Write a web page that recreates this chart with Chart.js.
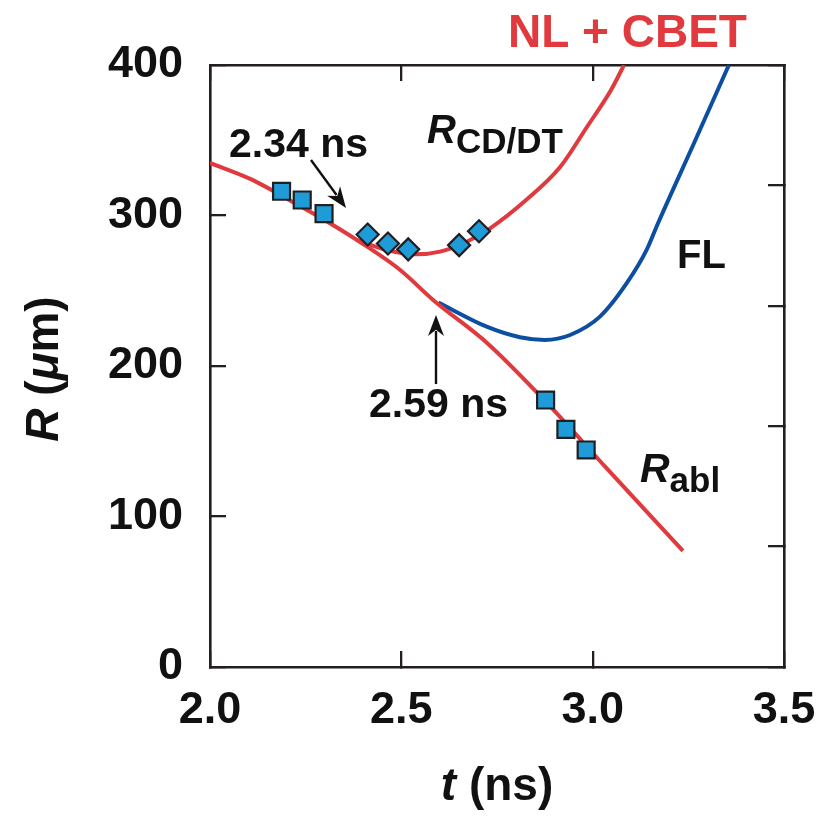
<!DOCTYPE html>
<html><head><meta charset="utf-8">
<script src="https://cdn.jsdelivr.net/npm/chart.js@4.4.0/dist/chart.umd.min.js"></script>
<style>html,body{margin:0;padding:0;background:#fff}canvas{display:block}</style>
</head><body>
<canvas id="c" width="818" height="817" style="width:818px;height:817px"></canvas>
<script>
// ---- tick labels ----
const xTickLabels = ['2.0', '2.5', '3.0', '3.5'];
const yTickLabels = ['0', '100', '200', '300', '400'];

// ---- R_abl curve (NL + CBET, red) ----
const ablT = [2.000, 2.105, 2.235, 2.321, 2.392, 2.497, 2.583, 2.724, 2.878, 3.038, 3.236];
const ablR = [334.9, 324.3, 306.3, 293.7, 282.4, 263.8, 243.9, 215.3, 176.1, 131.6, 77.1];

// ---- R_CD/DT branch (NL + CBET, red) ----
const cdT = [2.384, 2.462, 2.540, 2.601, 2.671, 2.732, 2.823, 2.915, 2.985, 3.048, 3.082];
const cdR = [283.7, 277.1, 274.2, 276.0, 282.6, 291.5, 309.6, 332.2, 358.8, 383.4, 400.0];

// ---- FL curve (blue) ----
const flT = [2.597, 2.723, 2.810, 2.875, 2.941, 3.019, 3.089, 3.141, 3.171, 3.265, 3.356];
const flR = [242.1, 226.1, 219.1, 217.3, 220.6, 232.8, 255.0, 277.1, 295.0, 348.2, 400.0];

// ---- measured points ----
const squareT = [2.187, 2.241, 2.298, 2.877, 2.930, 2.983];
const squareR = [316.1, 310.3, 301.2, 177.4, 157.9, 144.2];
const diamondT = [2.412, 2.465, 2.518, 2.651, 2.703];
const diamondR = [287.4, 281.4, 277.5, 280.3, 289.5];

const RED = '#e03a3e', BLUE = '#0c4fa2', MARK = '#1f9bd7', AX = '#231f20', TXT = '#111';
const FAM = '"Liberation Sans", Arial, Helvetica, sans-serif';
const pts = (xs, ys) => xs.map((x, i) => ({x: x, y: ys[i]}));

function rich(ctx, parts, x, y, align) {
  let w = 0;
  parts.forEach(p => { ctx.font = p.f; p.w = ctx.measureText(p.t).width; w += p.w; });
  let cx = align === 'center' ? x - w / 2 : (align === 'right' ? x - w : x);
  parts.forEach(p => { ctx.font = p.f; ctx.fillStyle = p.c || TXT; ctx.fillText(p.t, cx, y + (p.dy || 0)); cx += p.w; });
}
function arrow(ctx, x1, y1, x2, y2) {
  const a = Math.atan2(y2 - y1, x2 - x1), L = 21, W = 8;
  const bx = x2 - L * Math.cos(a), by = y2 - L * Math.sin(a);
  ctx.strokeStyle = TXT; ctx.fillStyle = TXT; ctx.lineWidth = 2.4;
  ctx.beginPath(); ctx.moveTo(x1, y1); ctx.lineTo(bx + 5 * Math.cos(a), by + 5 * Math.sin(a)); ctx.stroke();
  ctx.beginPath(); ctx.moveTo(x2, y2);
  ctx.lineTo(bx + W * Math.sin(a), by - W * Math.cos(a));
  ctx.lineTo(bx + 0.3 * L * Math.cos(a), by + 0.3 * L * Math.sin(a));
  ctx.lineTo(bx - W * Math.sin(a), by + W * Math.cos(a));
  ctx.closePath(); ctx.fill();
}

const annot = {
  id: 'annot',
  afterDraw(chart) {
    const ctx = chart.ctx, xs = chart.scales.x, ys = chart.scales.y, ca = chart.chartArea;
    const P = (t, r) => [xs.getPixelForValue(t), ys.getPixelForValue(r)];
    ctx.save();
    ctx.textBaseline = 'alphabetic'; ctx.textAlign = 'left';
    let p;
    p = P(2.7787, 412.0);
    rich(ctx, [{t: 'NL + CBET', f: 'bold 46px ' + FAM, c: RED}], p[0], p[1], 'left');
    p = P(2.0497, 338.9);
    rich(ctx, [{t: '2.34 ns', f: 'bold 41px ' + FAM}], p[0], p[1], 'left');
    p = P(2.5671, 348.2);
    rich(ctx, [{t: 'R', f: 'italic bold 40px ' + FAM}, {t: 'CD/DT', f: 'bold 35px ' + FAM, dy: 10}], p[0], p[1], 'left');
    p = P(3.2204, 265.1);
    rich(ctx, [{t: 'FL', f: 'bold 40px ' + FAM}], p[0], p[1], 'left');
    p = P(2.7787, 166.1);
    rich(ctx, [{t: '2.59 ns', f: 'bold 41px ' + FAM}], p[0], p[1], 'right');
    p = P(3.1237, 122.9);
    rich(ctx, [{t: 'R', f: 'italic bold 41px ' + FAM}, {t: 'abl', f: 'bold 35px ' + FAM, dy: 10}], p[0], p[1], 'left');
    // arrows
    let a = P(2.2639, 336.9), b = P(2.3554, 305.0);
    arrow(ctx, a[0], a[1], b[0], b[1]);
    a = P(2.5906, 188.0); b = P(2.5906, 233.9);
    arrow(ctx, a[0], a[1], b[0], b[1]);
    // axis titles
    rich(ctx, [{t: 't', f: 'italic bold 46px ' + FAM}, {t: ' (ns)', f: 'bold 46px ' + FAM}],
      (ca.left + ca.right) / 2, 800, 'center');
    ctx.save();
    ctx.translate(ca.left - 152, (ca.top + ca.bottom) / 2 + 3);
    ctx.rotate(-Math.PI / 2);
    rich(ctx, [{t: 'R', f: 'italic bold 46px ' + FAM}, {t: ' (', f: 'bold 46px ' + FAM},
      {t: 'μ', f: 'italic bold 46px ' + FAM}, {t: 'm)', f: 'bold 46px ' + FAM}], 0, 0, 'center');
    ctx.restore();
    ctx.restore();
  }
};

const gridIn = {drawOnChartArea: false, drawTicks: true, tickLength: -16, color: AX, lineWidth: 2.3};
const borderOpt = {display: true, color: AX, width: 2.6};
const tickFont = {family: FAM, size: 45, weight: 'bold'};
const fixH = h => s => { s.height = h; s.paddingLeft = 0; s.paddingRight = 0; s.paddingTop = 0; s.paddingBottom = 0; };
const fixW = w => s => { s.width = w; s.paddingLeft = 0; s.paddingRight = 0; s.paddingTop = 0; s.paddingBottom = 0; };

new Chart(document.getElementById('c'), {
  type: 'scatter',
  data: {
    datasets: [
      {label: 'squares', data: pts(squareT, squareR), pointStyle: 'rect', pointRadius: 12,
        backgroundColor: MARK, borderColor: AX, borderWidth: 2.2, order: 0},
      {label: 'diamonds', data: pts(diamondT, diamondR), pointStyle: 'rectRot', pointRadius: 11,
        backgroundColor: MARK, borderColor: AX, borderWidth: 2.2, order: 0},
      {label: 'R_abl', data: pts(ablT, ablR), showLine: true, pointRadius: 0, borderColor: RED,
        borderWidth: 4, cubicInterpolationMode: 'monotone', order: 1},
      {label: 'R_CD/DT', data: pts(cdT, cdR), showLine: true, pointRadius: 0, borderColor: RED,
        borderWidth: 4, cubicInterpolationMode: 'monotone', order: 1},
      {label: 'FL', data: pts(flT, flR), showLine: true, pointRadius: 0, borderColor: BLUE,
        borderWidth: 4, cubicInterpolationMode: 'monotone', order: 1}
    ]
  },
  options: {
    responsive: false, animation: false,
    layout: {padding: 0, autoPadding: false},
    plugins: {legend: {display: false}, tooltip: {enabled: false}},
    scales: {
      x: {type: 'linear', position: 'bottom', min: 2, max: 3.5,
        ticks: {stepSize: 0.5, font: tickFont, color: TXT, padding: 33, callback: (v, i) => xTickLabels[i]},
        grid: gridIn, border: borderOpt, afterFit: fixH(150)},
      x2: {type: 'linear', position: 'top', min: 2, max: 3.5,
        ticks: {stepSize: 0.5, display: false},
        grid: gridIn, border: borderOpt, afterFit: fixH(65)},
      y: {type: 'linear', position: 'left', min: 0, max: 400,
        ticks: {stepSize: 100, font: tickFont, color: TXT, padding: 43, callback: (v, i) => yTickLabels[i]},
        grid: gridIn, border: borderOpt, afterFit: fixW(210)},
      y2: {type: 'linear', position: 'right', min: 0, max: 5,
        ticks: {stepSize: 1, display: false},
        grid: gridIn, border: borderOpt, afterFit: fixW(34)}
    }
  },
  plugins: [annot]
});
</script>
</body></html>
